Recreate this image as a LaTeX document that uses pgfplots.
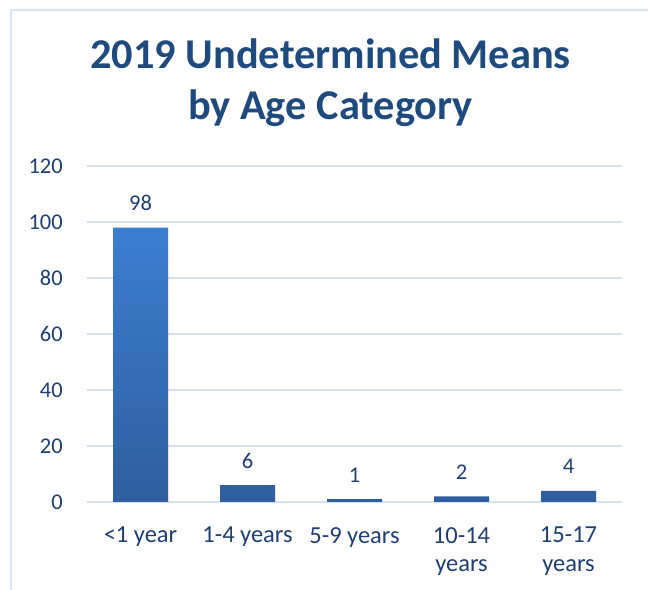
\documentclass[border=0pt]{standalone}
\usepackage{fontspec}
\setmainfont{Carlito}
\usepackage{pgfplots}
\pgfplotsset{compat=1.18}
\usetikzlibrary{shadows}

\definecolor{titleblue}{HTML}{1F4A7E}
\definecolor{textblue}{HTML}{1F3F70}
\definecolor{gridblue}{HTML}{D6E2F2}
\definecolor{framblue}{HTML}{D8E5F5}
\definecolor{bartop}{HTML}{3C7ED0}
\definecolor{barbot}{HTML}{2F5E9E}

\begin{document}
\begin{tikzpicture}[x=1bp,y=1bp]
\path[use as bounding box] (0,0) rectangle (648,590);
% chart frame (left and top edges visible)
\draw[framblue, line width=2bp] (11,-5) -- (11,580) -- (655,580);

\node[titleblue, font=\fontsize{42.4bp}{50bp}\selectfont\bfseries, anchor=base] at (330.5,521) {2019 Undetermined Means};
\node[titleblue, font=\fontsize{42.4bp}{50bp}\selectfont\bfseries, anchor=base] at (330.5,470) {by Age Category};

\begin{axis}[
    at={(87bp,88bp)}, anchor=south west,
    scale only axis,
    width=535bp, height=336bp,
    ybar,
    bar width=55bp,
    xmin=-0.5, xmax=4.5,
    ymin=0, ymax=120,
    ytick={0,20,...,120},
    xtick=data,
    xticklabels={{<1 year},{1-4 years},{5-9 years},{10-14\\years},{15-17\\years}},
    axis line style={draw=none},
    major tick length=0pt,
    ymajorgrids,
    grid style={gridblue, line width=1.6bp},
    yticklabel style={textblue, font=\fontsize{22.5bp}{28bp}\selectfont, anchor=east, inner sep=0pt, xshift=-24bp},
    xticklabel style={textblue, font=\fontsize{24.5bp}{28.3bp}\selectfont, anchor=north, inner sep=0pt, yshift=-25bp, align=center},
    /pgf/number format/assume math mode=true,
    nodes near coords,
    every node near coord/.append style={textblue, font=\fontsize{22.5bp}{28bp}\selectfont, anchor=base, inner sep=0pt, yshift=17bp},
]
\addplot[draw=none, top color=bartop, bottom color=barbot,
    drop shadow={shadow xshift=0bp, shadow yshift=-1.5bp, opacity=0.18}] coordinates {
    (0,98) (1,6) (2,1) (3,2) (4,4)
};
\end{axis}
\end{tikzpicture}
\end{document}
